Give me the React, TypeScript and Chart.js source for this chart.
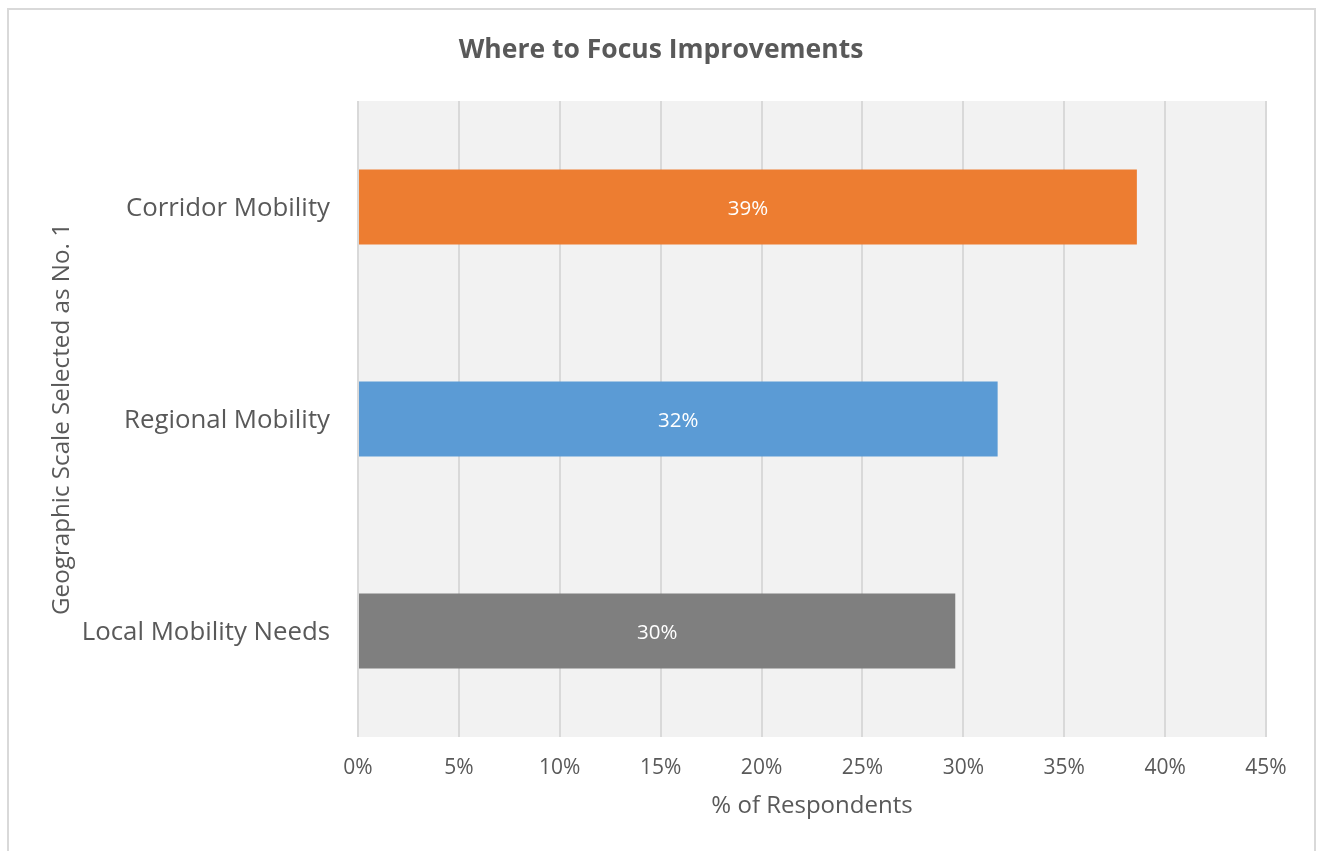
import React, { useEffect, useRef } from "react";
import { Chart, registerables } from "chart.js";

Chart.register(...registerables);

const categories = ["Corridor Mobility", "Regional Mobility", "Local Mobility Needs"];
const values = [38.6, 31.7, 29.6];
const valueLabels = ["39%", "32%", "30%"];
const barColors = ["#ED7D31", "#5B9BD5", "#7F7F7F"];
const xTicks = [0, 5, 10, 15, 20, 25, 30, 35, 40, 45];
const chartTitle = "Where to Focus Improvements";

const FONT = "'Open Sans', sans-serif";
const TEXT = "#595959";

const plotBg = {
  id: "plotBg",
  beforeDraw(chart: any) {
    const { ctx, chartArea } = chart;
    ctx.save();
    ctx.fillStyle = "#F2F2F2";
    ctx.fillRect(chartArea.left, chartArea.top, chartArea.right - chartArea.left, chartArea.bottom - chartArea.top);
    ctx.restore();
  },
};

const titleDraw = {
  id: "titleDraw",
  afterDraw(chart: any) {
    const { ctx } = chart;
    ctx.save();
    ctx.fillStyle = TEXT;
    ctx.font = `bold 26.5px ${FONT}`;
    ctx.textAlign = "center";
    ctx.textBaseline = "middle";
    ctx.fillText(chartTitle, 661, 50);
    ctx.restore();
  },
};

const barLabels = {
  id: "barLabels",
  afterDatasetsDraw(chart: any) {
    const { ctx } = chart;
    const meta = chart.getDatasetMeta(0);
    ctx.save();
    ctx.fillStyle = "#FFFFFF";
    ctx.font = `20.5px ${FONT}`;
    ctx.textAlign = "center";
    ctx.textBaseline = "middle";
    meta.data.forEach((bar: any, i: number) => {
      const cx = (bar.x + bar.base) / 2;
      ctx.fillText(valueLabels[i], cx, bar.y + 2);
    });
    ctx.restore();
  },
};

export default function App() {
  const ref = useRef<HTMLCanvasElement | null>(null);
  useEffect(() => {
    if (!ref.current) return;
    const chart = new Chart(ref.current, {
      type: "bar",
      data: {
        labels: categories,
        datasets: [
          {
            data: values,
            backgroundColor: barColors,
            barPercentage: 0.354,
            categoryPercentage: 1,
          },
        ],
      },
      options: {
        indexAxis: "y",
        animation: false,
        responsive: false,
        layout: { padding: { left: 0, right: 52, top: 101, bottom: 0 } },
        plugins: {
          legend: { display: false },
          tooltip: { enabled: false },
          title: { display: false },
        },
        scales: {
          x: {
            min: 0,
            max: 45,
            afterBuildTicks(scale: any) {
              scale.ticks = xTicks.map((v) => ({ value: v }));
            },
            afterFit(scale: any) {
              scale.height = 114;
            },
            ticks: {
              color: TEXT,
              font: { family: FONT, size: 21 },
              padding: 18,
              callback: (v: any) => `${v}%`,
            },
            grid: { color: "#D9D9D9", lineWidth: 2, drawTicks: false },
            border: { display: false },
            title: {
              display: true,
              text: "% of Respondents",
              color: TEXT,
              font: { family: FONT, size: 24 },
              padding: { top: 0, bottom: 30 },
            },
          },
          y: {
            afterFit(scale: any) {
              scale.width = 358;
            },
            ticks: {
              color: TEXT,
              font: { family: FONT, size: 25.8 },
              padding: 28,
              labelOffset: 2,
            },
            grid: { display: false, drawTicks: false },
            border: { display: false },
            title: {
              display: true,
              text: "Geographic Scale Selected as No. 1",
              color: TEXT,
              font: { family: FONT, size: 24.2 },
              padding: { top: 47.5, bottom: 0 },
            },
          },
        },
      },
      plugins: [plotBg, barLabels, titleDraw],
    });
    return () => chart.destroy();
  }, []);

  return (
    <div style={{ position: "fixed", left: 0, top: 0, width: 1318, height: 851, background: "#fff" }}>
      <canvas ref={ref} width={1318} height={851} style={{ position: "absolute", left: 0, top: 0, width: 1318, height: 851 }} />
      <div
        style={{
          position: "absolute",
          left: 7,
          top: 8,
          width: 1309,
          height: 900,
          border: "2px solid #D9D9D9",
          boxSizing: "border-box",
          pointerEvents: "none",
        }}
      />
    </div>
  );
}
